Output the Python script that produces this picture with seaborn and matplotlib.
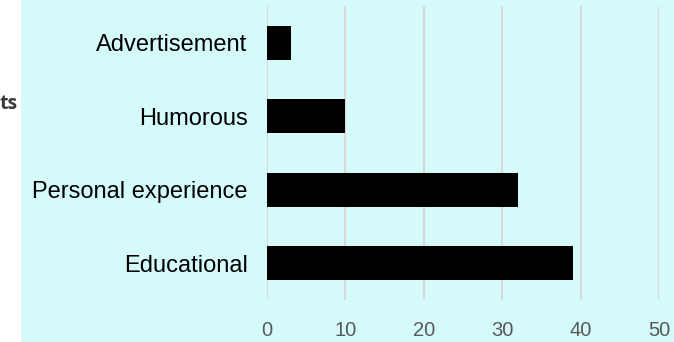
#!/usr/bin/env python3
"""Horizontal bar chart: counts of post types."""
import matplotlib

matplotlib.use("Agg")
import matplotlib.pyplot as plt
import pandas as pd
import seaborn as sns
from matplotlib.patches import Rectangle

categories = ["Advertisement", "Humorous", "Personal experience", "Educational"]
counts = [3, 10, 32, 39]
x_ticks = [0, 10, 20, 30, 40, 50]

BG = "#d5fafa"

df = pd.DataFrame({"type": categories, "count": counts})

sns.set_theme(style="white")
plt.rcParams["font.family"] = ["Liberation Sans", "DejaVu Sans"]

fig = plt.figure(figsize=(6.74, 3.42), dpi=100, facecolor="white")
# cyan panel, leaving a thin white strip on the left
fig.patches.append(
    Rectangle((21 / 674, 0), 1 - 21 / 674, 1, transform=fig.transFigure,
              facecolor=BG, edgecolor="none", zorder=-10)
)
# the only visible end of the axis title, sitting in the white strip
fig.text(0, 1 - 104 / 342, "ts", ha="left", va="center",
         fontsize=14, fontweight="bold", color="#3a3a3a",
         family=["Open Sans", "DejaVu Sans"])

ax = fig.add_axes([267 / 674, 1 - 300 / 342, (659 - 267) / 674, (300 - 6) / 342])
ax.set_zorder(5)
ax.set_facecolor(BG)

sns.barplot(data=df, x="count", y="type", order=categories, color="black",
            width=0.46, saturation=1, linewidth=0, ax=ax, zorder=3)

ax.set_xlim(0, 50)
ax.set_ylim(3.5, -0.5)
ax.set_xticks(x_ticks)
ax.xaxis.grid(True, color="#d9d9d9", linewidth=1.5, zorder=0)
ax.yaxis.grid(False)
ax.set_axisbelow(True)
for s in ax.spines.values():
    s.set_visible(False)

ax.set_xlabel("")
ax.set_ylabel("")
ax.tick_params(axis="y", length=0, pad=14, labelsize=17, labelcolor="black")
ax.tick_params(axis="x", length=0, pad=15, labelsize=14.5, labelcolor="#595959")

plt.savefig("out.png", dpi=100, facecolor=fig.get_facecolor())
